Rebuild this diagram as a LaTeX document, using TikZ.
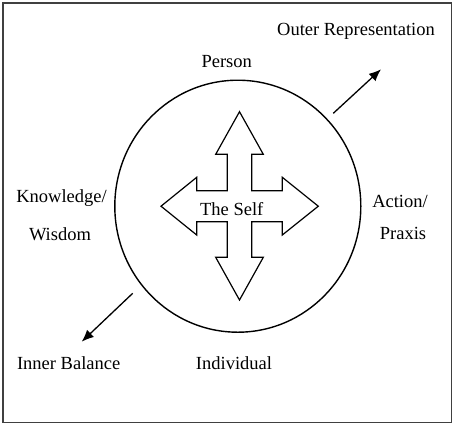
\documentclass[tikz,border=0pt]{standalone}
\usepackage{fontspec}
\setmainfont{Liberation Serif}
\usetikzlibrary{arrows.meta,shapes.geometric}
\begin{document}
\begin{tikzpicture}[x=1pt,y=-1pt,
  lbl/.style={font=\fontsize{18.5}{22}\selectfont, inner sep=0pt, anchor=base},
  outarrow/.style={line width=1.3pt, -{Latex[length=12pt,width=10pt]}},
  crossline/.style={line width=1.2pt, line join=miter}]
\useasboundingbox (0,0) rectangle (454,426);
\draw[line width=1.6pt, black!75] (3,3) rectangle (451.5,422.5);
% circle
\node[draw, ellipse, line width=1.4pt, minimum width=246pt, minimum height=252pt, inner sep=0pt] (circ) at (237.8,206.2) {};
% cross
\draw[crossline] (239.5,111.7) -- (263.3,154.3) -- (251.7,154.3) -- (251.7,190.7) -- (282.3,190.7) -- (282.3,177.3) -- (318.3,206.2) -- (282.3,235) -- (282.3,221.7) -- (251.7,221.7) -- (251.7,257.3) -- (263.3,257.3) -- (239.5,300) -- (215.7,257.3) -- (227.3,257.3) -- (227.3,221.7) -- (196.7,221.7) -- (196.7,235) -- (161,206.2) -- (196.7,177.3) -- (196.7,190.7) -- (227.3,190.7) -- (227.3,154.3) -- (215.7,154.3) -- cycle;
\node[lbl] (self) at (231.7,215) {The Self};
% labels
\node[lbl] (outer) at (356,35) {Outer Representation};
\node[lbl] (person) at (226.7,67.3) {Person};
\node[lbl] (indiv) at (234,369.3) {Individual};
\node[lbl] (inner) at (68.7,369.3) {Inner Balance};
\node[lbl] (know) at (61.5,202) {Knowledge/};
\node[lbl] (wisdom) at (60,240) {Wisdom};
\node[lbl] (action) at (400,207) {Action/};
\node[lbl] (praxis) at (403,239.5) {Praxis};
% arrows
\coordinate (ors) at (333.3,113.3);
\coordinate (ore) at (381,69.3);
\coordinate (ibs) at (132.7,293.3);
\coordinate (ibe) at (81.7,341.7);
\draw[outarrow] (ors) -- (ore);
\draw[outarrow] (ibs) -- (ibe);
\end{tikzpicture}
\end{document}
